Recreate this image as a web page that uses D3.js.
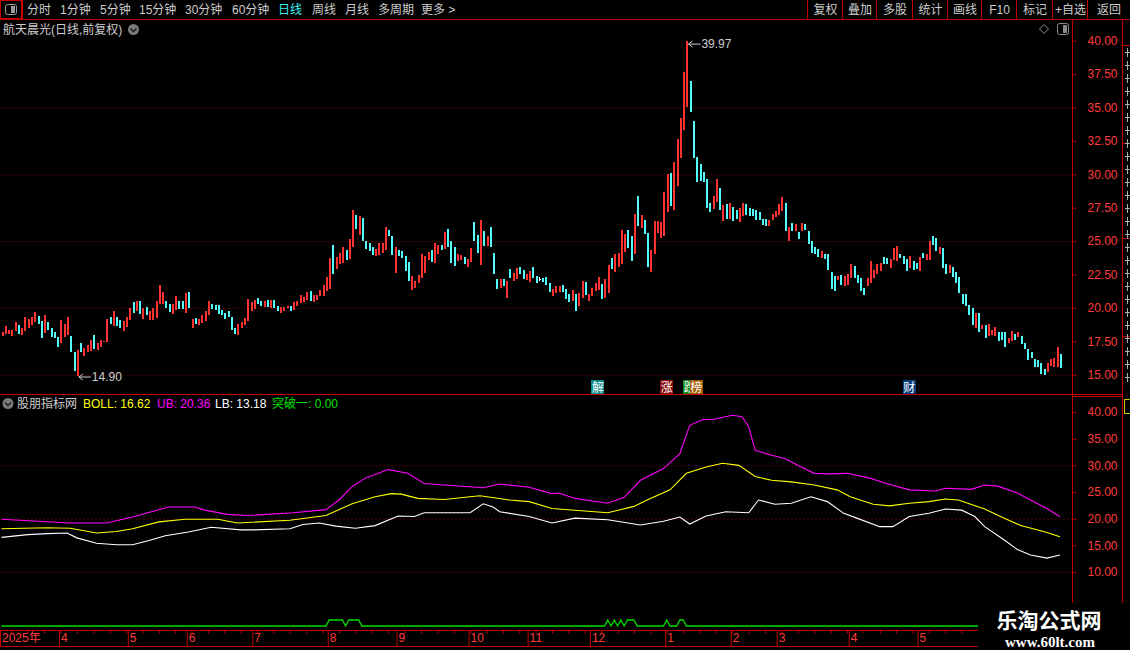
<!DOCTYPE html>
<html>
<head>
<meta charset="utf-8">
<title>航天晨光</title>
<script src="https://cdn.jsdelivr.net/npm/d3@7"></script>
<style>
  html, body { margin: 0; padding: 0; background: #000; overflow: hidden; }
  svg { display: block; }
  text { font-family: "Liberation Sans", Arial, "Noto Sans CJK SC", sans-serif; font-size: 12px; }
</style>
</head>
<body>
<svg id="chart" width="1130" height="650"></svg>
<script>
// daily candles
const open = [
  17.91,18.03,18.08,17.91,18.28,18.73,17.99,18.28,18.53,18.73,
  18.98,19.43,19.03,18.13,18.96,18.46,18.21,17.79,17.41,17.84,
  17.99,17.91,16.67,14.90,17.34,16.42,16.72,16.74,17.99,16.84,
  17.09,17.46,17.46,19.35,18.66,19.33,19.08,18.28,18.58,19.08,
  20.45,19.78,20.52,19.15,20.07,19.10,19.08,19.28,20.27,20.27,
  20.52,20.27,19.58,19.83,20.52,20.52,19.65,21.19,18.46,19.25,
  18.73,18.86,19.03,19.48,20.32,20.22,20.22,19.83,19.65,19.78,
  19.33,18.53,17.96,18.53,18.73,19.03,19.78,19.90,20.72,20.50,
  20.10,20.60,19.98,20.57,20.15,19.65,19.78,20.00,20.15,19.85,
  20.15,20.40,20.45,20.60,21.27,20.45,20.60,20.90,20.90,21.27,
  21.39,24.70,22.94,23.26,23.38,24.33,23.68,24.58,26.99,25.45,
  26.72,25.00,24.85,24.55,23.88,23.95,24.08,24.33,25.82,25.37,
  22.64,24.33,24.23,23.88,23.43,21.34,21.49,21.84,22.26,22.64,
  23.58,24.33,23.38,24.00,24.68,24.38,25.90,25.00,24.55,23.51,
  23.58,23.83,23.06,23.43,26.42,25.45,23.21,25.75,24.63,26.04,
  24.10,22.19,21.49,22.14,20.77,22.89,22.01,22.14,23.06,22.81,
  22.06,21.97,23.06,22.39,22.16,22.21,22.31,21.89,20.90,21.09,
  21.19,21.72,21.39,21.02,20.52,21.02,20.15,20.77,21.94,20.52,
  20.90,21.27,21.32,21.82,20.77,21.14,23.76,22.71,23.06,23.26,
  24.20,25.82,25.37,24.05,28.36,26.00,26.57,25.62,22.71,24.05,
  25.62,25.25,25.37,27.16,30.10,27.31,29.10,31.22,33.28,35.07,
  37.01,33.96,31.27,30.77,30.15,29.65,27.86,27.41,27.91,28.98,
  26.49,27.79,26.62,27.56,27.31,26.44,26.87,27.81,27.49,27.44,
  27.36,27.16,26.62,26.67,26.12,26.57,26.79,26.99,27.24,27.86,
  25.00,26.34,25.75,25.70,25.75,26.29,25.75,25.00,24.58,24.43,
  23.76,24.05,24.00,22.71,22.39,22.06,22.44,21.64,21.72,22.26,
  23.13,22.44,22.26,21.52,21.64,21.89,22.26,22.51,22.76,23.83,
  23.76,23.01,23.56,23.51,24.00,23.88,23.63,23.01,23.51,23.38,
  22.76,24.13,23.58,23.58,25.37,25.20,24.00,24.50,23.26,22.64,
  23.06,22.71,22.31,21.07,21.02,20.22,19.98,18.53,19.65,18.41,
  18.73,17.91,17.99,17.91,18.16,18.23,18.16,17.41,17.49,18.03,
  17.79,17.91,17.34,16.92,16.67,16.17,16.09,15.85,15.42,15.17,
  15.67,15.55,15.55,16.54
];
const close = [
  18.21,18.66,18.33,18.38,18.96,18.03,18.53,19.35,19.15,19.35,
  19.70,18.78,17.71,19.48,18.33,17.79,17.71,17.09,19.10,18.78,
  19.35,16.67,15.30,16.87,16.67,16.99,17.24,17.59,16.92,17.34,
  17.61,17.54,19.15,18.78,19.78,18.61,18.48,19.03,19.33,19.98,
  19.65,20.52,19.58,19.98,19.45,19.78,20.02,20.52,21.72,21.19,
  20.02,19.73,20.32,20.90,19.95,19.95,21.12,19.98,19.15,18.78,
  19.20,19.48,19.78,20.52,19.95,19.83,19.53,19.45,19.20,19.35,
  18.36,18.08,18.83,18.91,19.23,20.67,20.47,20.60,20.27,20.15,
  20.50,20.07,20.60,19.98,19.78,20.07,20.07,20.15,19.78,20.45,
  20.55,20.97,20.82,21.22,20.52,20.97,20.97,21.34,21.72,22.31,
  23.73,22.54,23.81,24.13,24.55,23.58,25.17,27.31,25.90,26.87,
  25.00,24.38,24.25,23.93,24.40,24.85,24.85,26.04,25.37,23.95,
  24.55,23.88,23.76,22.76,22.01,22.39,22.01,22.46,24.00,23.88,
  24.18,23.43,24.85,24.68,24.33,25.67,24.58,23.38,23.13,24.00,
  23.93,23.26,23.63,24.48,25.00,24.13,26.57,24.63,25.37,24.55,
  22.54,21.39,22.14,21.64,22.01,22.26,22.59,23.01,22.56,22.14,
  22.51,22.76,22.26,21.84,22.16,21.97,21.72,21.19,21.44,21.64,
  21.64,21.19,20.70,20.47,21.34,19.78,21.14,22.01,20.95,21.02,
  21.52,21.89,22.31,20.65,22.14,23.21,22.89,24.05,24.13,25.82,
  25.50,24.45,23.51,27.04,26.12,26.99,25.55,23.08,24.33,26.54,
  26.49,26.42,28.68,30.02,27.61,30.90,32.64,34.25,37.64,39.97,
  34.63,31.22,29.40,29.53,29.40,27.49,27.16,28.36,29.65,27.31,
  27.69,26.69,27.86,26.54,26.62,27.49,27.86,26.92,26.87,26.87,
  26.57,26.57,26.19,26.12,26.57,27.06,27.24,27.79,28.28,25.75,
  26.04,25.75,26.29,25.12,26.32,25.80,24.80,24.13,24.00,23.81,
  24.25,23.63,22.81,21.39,21.27,22.39,21.72,22.39,22.51,23.31,
  22.21,21.89,21.27,20.97,22.26,23.51,22.81,23.26,23.38,23.26,
  23.26,23.68,24.50,24.63,23.76,23.31,22.76,23.88,22.81,22.89,
  23.81,23.71,24.00,25.00,24.70,24.25,24.58,23.01,22.51,23.18,
  22.31,21.89,21.14,20.27,20.15,19.48,18.73,19.60,18.23,18.73,
  17.74,18.78,18.33,18.58,17.49,17.59,17.04,17.71,18.28,17.61,
  18.16,17.29,16.92,16.09,16.24,15.60,15.55,15.05,15.00,15.85,
  16.17,16.24,17.04,15.50
];
const high = [
  18.21,18.66,18.33,18.38,18.96,18.73,18.53,19.35,19.15,19.35,
  19.70,19.43,19.03,19.48,18.96,18.46,18.21,17.79,19.10,18.78,
  19.35,17.91,16.67,16.87,17.34,16.99,17.24,17.59,17.99,17.34,
  17.61,17.54,19.15,19.35,19.78,19.33,19.08,19.03,19.33,19.98,
  20.45,20.52,20.52,19.98,20.07,19.78,20.02,20.52,21.72,21.19,
  20.52,20.27,20.32,20.90,20.52,20.52,21.12,21.19,19.15,19.25,
  19.20,19.48,19.78,20.52,20.32,20.22,20.22,19.83,19.65,19.78,
  19.33,18.53,18.83,18.91,19.23,20.67,20.47,20.60,20.72,20.50,
  20.50,20.60,20.60,20.57,20.15,20.07,20.07,20.15,20.15,20.45,
  20.55,20.97,20.82,21.22,21.27,20.97,20.97,21.34,21.72,22.31,
  23.73,24.70,23.81,24.13,24.55,24.33,25.17,27.31,26.99,26.87,
  26.72,25.00,24.85,24.55,24.40,24.85,24.85,26.04,25.82,25.37,
  24.55,24.33,24.23,23.88,23.43,22.39,22.01,22.46,24.00,23.88,
  24.18,24.33,24.85,24.68,24.68,25.67,25.90,25.00,24.55,24.00,
  23.93,23.83,23.63,24.48,26.42,25.45,26.57,25.75,25.37,26.04,
  24.10,22.19,22.14,22.14,22.01,22.89,22.59,23.01,23.06,22.81,
  22.51,22.76,23.06,22.39,22.31,22.21,22.31,21.89,21.44,21.64,
  21.64,21.72,21.39,21.02,21.34,21.02,21.14,22.01,21.94,21.02,
  21.52,21.89,22.31,21.82,22.14,23.21,23.76,24.05,24.13,25.82,
  25.50,25.82,25.37,27.04,28.36,26.99,26.57,25.62,24.33,26.54,
  26.49,26.42,28.68,30.02,30.10,30.90,32.64,34.25,37.64,39.97,
  37.01,33.96,31.27,30.77,30.15,29.65,27.86,28.36,29.65,28.98,
  27.69,27.79,27.86,27.56,27.31,27.49,27.86,27.81,27.49,27.44,
  27.36,27.16,26.62,26.67,26.57,27.06,27.24,27.79,28.28,27.86,
  26.04,26.34,26.29,25.70,26.32,26.29,25.75,25.00,24.58,24.43,
  24.25,24.05,24.00,22.71,22.39,22.39,22.44,22.39,22.51,23.31,
  23.13,22.44,22.26,21.52,22.26,23.51,22.81,23.26,23.38,23.83,
  23.76,23.68,24.50,24.63,24.00,23.88,23.63,23.88,23.51,23.38,
  23.81,24.13,24.00,25.00,25.37,25.20,24.58,24.50,23.26,23.18,
  23.06,22.71,22.31,21.07,21.02,20.22,19.98,19.60,19.65,18.73,
  18.73,18.78,18.33,18.58,18.16,18.23,18.16,17.71,18.28,18.03,
  18.16,17.91,17.34,16.92,16.67,16.17,16.09,15.85,15.42,15.85,
  16.17,16.24,17.04,16.54
];
const low = [
  17.91,18.03,18.08,17.91,18.28,18.03,17.99,18.28,18.53,18.73,
  18.98,18.78,17.71,18.13,18.33,17.79,17.71,17.09,17.41,17.84,
  17.99,16.67,15.30,14.90,16.67,16.42,16.72,16.74,16.92,16.84,
  17.09,17.46,17.46,18.78,18.66,18.61,18.48,18.28,18.58,19.08,
  19.65,19.78,19.58,19.15,19.45,19.10,19.08,19.28,20.27,20.27,
  20.02,19.73,19.58,19.83,19.95,19.95,19.65,19.98,18.46,18.78,
  18.73,18.86,19.03,19.48,19.95,19.83,19.53,19.45,19.20,19.35,
  18.36,18.08,17.96,18.53,18.73,19.03,19.78,19.90,20.27,20.15,
  20.10,20.07,19.98,19.98,19.78,19.65,19.78,20.00,19.78,19.85,
  20.15,20.40,20.45,20.60,20.52,20.45,20.60,20.90,20.90,21.27,
  21.39,22.54,22.94,23.26,23.38,23.58,23.68,24.58,25.90,25.45,
  25.00,24.38,24.25,23.93,23.88,23.95,24.08,24.33,25.37,23.95,
  22.64,23.88,23.76,22.76,22.01,21.34,21.49,21.84,22.26,22.64,
  23.58,23.43,23.38,24.00,24.33,24.38,24.58,23.38,23.13,23.51,
  23.58,23.26,23.06,23.43,25.00,24.13,23.21,24.63,24.63,24.55,
  22.54,21.39,21.49,21.64,20.77,22.26,22.01,22.14,22.56,22.14,
  22.06,21.97,22.26,21.84,22.01,21.97,21.72,21.19,20.90,21.09,
  21.19,21.19,20.70,20.47,20.52,19.78,20.15,20.77,20.95,20.52,
  20.90,21.27,21.32,20.65,20.77,21.14,22.89,22.71,23.06,23.26,
  24.20,24.45,23.51,24.05,26.12,26.00,25.55,23.08,22.71,24.05,
  25.62,25.25,25.37,27.16,27.61,27.31,29.10,31.22,33.28,35.07,
  34.63,31.22,29.40,29.53,29.40,27.49,27.16,27.41,27.91,27.31,
  26.49,26.69,26.62,26.54,26.62,26.44,26.87,26.92,26.87,26.87,
  26.57,26.57,26.19,26.12,26.12,26.57,26.79,26.99,27.24,25.75,
  25.00,25.75,25.75,25.12,25.75,25.80,24.80,24.13,24.00,23.81,
  23.76,23.63,22.81,21.39,21.27,22.06,21.72,21.64,21.72,22.26,
  22.21,21.89,21.27,20.97,21.64,21.89,22.26,22.51,22.76,23.26,
  23.26,23.01,23.56,23.51,23.76,23.31,22.76,23.01,22.81,22.89,
  22.76,23.71,23.58,23.58,24.70,24.25,24.00,23.01,22.51,22.64,
  22.31,21.89,21.14,20.27,20.15,19.48,18.73,18.53,18.23,18.41,
  17.74,17.91,17.99,17.91,17.49,17.59,17.04,17.41,17.49,17.61,
  17.79,17.29,16.92,16.09,16.24,15.60,15.55,15.05,15.00,15.17,
  15.67,15.55,15.55,15.50
];

// month marks on the date axis (candle index where each month starts)
const monthIdx = [0, 18, 39, 57, 77, 100, 121, 143, 161, 180, 203, 223, 237, 259, 280];
const monthLabels = ["2025年","4","5","6","7","8","9","10","11","12","1","2","3","4","5"];

// BOLL panel, read at candle indexes
const ubIdx = [0,21,32,40,51,59,62,69,75,89,99,103,107,111,118,124,129,135,147,152,161,168,170,175,185,190,195,202,207,210,214,217,223,226,228,230,235,239,244,248,253,258,265,270,277,285,288,296,300,304,310,314,319,323];
const ubVal = [19.9,19.2,19.2,20.3,22.2,22.2,21.6,20.8,20.6,21.1,21.7,23.5,26.0,27.6,29.2,28.5,26.6,26.3,25.8,26.5,25.9,24.7,24.8,23.8,22.9,24.0,27.2,29.4,32.2,37.5,38.6,38.6,39.4,39.1,37.2,32.8,31.9,31.3,29.7,28.5,28.4,28.5,27.6,26.6,25.4,25.2,25.7,25.5,26.3,26.1,24.8,23.5,21.9,20.36];
const midIdx = [0,14,21,29,35,40,48,56,66,72,88,99,107,114,119,122,127,135,143,146,155,161,168,185,193,197,204,209,215,220,225,230,235,241,248,255,259,266,271,277,283,288,292,300,306,311,318,323];
const midVal = [18.1,18.3,18.2,17.3,17.6,18.1,19.4,19.9,19.9,19.2,19.7,20.6,22.8,24.1,24.7,24.6,23.8,23.6,24.1,24.3,23.5,23.2,21.9,21.1,22.3,23.5,25.4,28.5,29.7,30.4,30.0,27.9,27.2,26.9,26.3,25.4,24.1,22.7,22.4,22.9,23.2,23.7,23.5,21.8,20.1,18.7,17.6,16.62];
const lbIdx = [0,8,14,20,23,29,35,40,45,50,57,64,73,77,88,92,97,102,108,114,121,126,129,143,147,150,152,161,168,175,185,195,202,207,210,215,221,228,231,236,241,247,252,257,261,268,272,277,283,288,293,297,300,306,310,314,319,323];
const lbVal = [16.5,17.0,17.2,17.3,16.4,15.4,15.1,15.1,15.9,16.8,17.5,18.4,17.9,17.9,18.1,18.9,19.2,18.6,18.2,18.7,20.5,20.4,21.1,21.1,22.8,22.2,21.3,20.4,19.2,20.1,19.8,18.8,19.5,20.3,19.0,20.5,21.3,21.1,23.5,22.7,22.9,24.1,23.2,21.0,20.1,18.5,18.5,20.4,21.0,21.8,21.6,20.4,18.5,16.0,14.2,13.2,12.6,13.18];

// days where the 突破 signal is 1
const breakDays = [100,101,102,103,104,106,107,108,109,185,187,189,191,192,193,203,207,208];

// event badges under the candles
const markerIdx = [182, 203, 210, 212, 277];
const markerText = ["解", "涨", "跌", "榜", "财"];

const mainTicks = [15, 17.5, 20, 22.5, 25, 27.5, 30, 32.5, 35, 37.5, 40];
const mainGrid = [15, 20, 25, 30, 35];
const indTicks = [10, 15, 20, 25, 30, 35, 40];
const indGrid = [10, 20, 30];

const periods = ["分时","1分钟","5分钟","15分钟","30分钟","60分钟","日线","周线","月线","多周期","更多 >"];
const periodX = [27, 60, 100, 139, 185, 232, 278, 312, 345, 378, 421];
const buttons = ["复权","叠加","多股","统计","画线","F10","标记","+自选","返回"];
const buttonEdges = [807, 842, 876, 912, 947, 981, 1016, 1052, 1087, 1129];

// ---- drawing ----
const RED_LINE = "#c40000";
const RED_TEXT = "#ff3b3b";
const GRAY = "#cdcdcd";
const UP = "#ff3232";
const DOWN = "#54fcfc";
const AXIS_X = 1072.5;

const svg = d3.select("#chart");
svg.append("rect").attr("width", 1130).attr("height", 650).attr("fill", "#000");

const N = close.length;
const x = d3.scaleLinear().domain([0, N - 1]).range([1.5, 1060]);
const yMain = d3.scaleLinear().domain([15, 40]).range([374.7, 40.7]);
const yInd = d3.scaleLinear().domain([10, 40]).range([572, 412]);
const yBrk = d3.scaleLinear().domain([0, 1]).range([626, 620]);

// grids
function grid(scale, values) {
  const g = svg.append("g").attr("transform", `translate(${AXIS_X},0)`)
    .call(d3.axisLeft(scale).tickValues(values).tickSize(AXIS_X).tickFormat(""));
  g.select(".domain").remove();
  g.selectAll("line").attr("stroke", "#a00000").attr("stroke-dasharray", "1,3");
}
grid(yMain, mainGrid);
grid(yInd, indGrid);

// frame lines
const frame = svg.append("g").attr("stroke", RED_LINE).attr("shape-rendering", "crispEdges");
frame.append("line").attr("x1", 0).attr("x2", 1130).attr("y1", 19.5).attr("y2", 19.5);
frame.append("line").attr("x1", 0).attr("x2", 1122).attr("y1", 394.5).attr("y2", 394.5);
frame.append("line").attr("x1", AXIS_X).attr("x2", 1122).attr("y1", 396.5).attr("y2", 396.5);
frame.append("line").attr("x1", 0).attr("x2", AXIS_X).attr("y1", 630.5).attr("y2", 630.5);
frame.append("line").attr("x1", 0).attr("x2", AXIS_X).attr("y1", 646.5).attr("y2", 646.5);
frame.append("line").attr("x1", AXIS_X).attr("x2", AXIS_X).attr("y1", 20).attr("y2", 650);
frame.append("line").attr("x1", 1122.5).attr("x2", 1122.5).attr("y1", 20).attr("y2", 650);
frame.append("line").attr("x1", 22.5).attr("x2", 22.5).attr("y1", 0).attr("y2", 19);
buttonEdges.slice(0, -1).forEach(bx =>
  frame.append("line").attr("x1", bx + 0.5).attr("x2", bx + 0.5).attr("y1", 0).attr("y2", 19));
[45, 143, 238, 336].forEach(yy =>
  frame.append("line").attr("x1", 1122).attr("x2", 1130).attr("y1", yy + 0.5).attr("y2", yy + 0.5));

// right axes
function rightAxis(scale, values) {
  const g = svg.append("g").attr("transform", `translate(${AXIS_X},0)`)
    .call(d3.axisRight(scale).tickValues(values).tickSize(4).tickPadding(11).tickFormat(d3.format(".2f")));
  g.select(".domain").remove();
  g.selectAll("line").attr("stroke", RED_LINE);
  g.selectAll("text").attr("fill", RED_TEXT).style("font-size", "12px")
    .style("font-family", "'Liberation Sans', Arial, sans-serif");
}
rightAxis(yMain, mainTicks);
rightAxis(yInd, indTicks);

// candles
const kg = svg.append("g").attr("shape-rendering", "crispEdges");
const candle = kg.selectAll("g").data(d3.range(N)).join("g");
const kColor = i => close[i] > open[i] ? UP : (close[i] < open[i] ? DOWN : "#ffffff");
candle.append("line")
  .attr("x1", i => Math.round(x(i)) + 0.5).attr("x2", i => Math.round(x(i)) + 0.5)
  .attr("y1", i => yMain(high[i])).attr("y2", i => yMain(low[i]))
  .attr("stroke", kColor);
candle.append("rect")
  .attr("x", i => Math.round(x(i)))
  .attr("width", 2)
  .attr("y", i => yMain(Math.max(open[i], close[i])))
  .attr("height", i => Math.max(1, yMain(Math.min(open[i], close[i])) - yMain(Math.max(open[i], close[i]))))
  .attr("fill", kColor);

// extreme labels
const fmt = d3.format(".2f");
function extremeLabel(i, v, dy) {
  const px = x(i) + 2, py = yMain(v) + dy;
  const g = svg.append("g").attr("stroke", GRAY).attr("fill", "none");
  g.append("path").attr("d", `M${px + 12},${py} H${px} M${px + 4},${py - 3} L${px},${py} L${px + 4},${py + 3}`);
  svg.append("text").attr("x", px + 13).attr("y", py + 4).attr("fill", GRAY).text(fmt(v));
}
const iLow = d3.minIndex(low), iHigh = d3.maxIndex(high);
extremeLabel(iLow, low[iLow], 1);
extremeLabel(iHigh, high[iHigh], 3);

// badges
const badgeFill = { "解": "#0e8c8c", "涨": "#8c0a0a", "跌": "#0d8a1c", "榜": "#a35c06", "财": "#0b3c7c" };
markerIdx.forEach((mi, k) => {
  const cx = x(mi);
  svg.append("rect").attr("x", Math.round(cx - 6.5)).attr("y", 380).attr("width", 13).attr("height", 14)
    .attr("fill", badgeFill[markerText[k]]);
  svg.append("text").attr("x", cx).attr("y", 391.5).attr("text-anchor", "middle")
    .attr("fill", "#fff").style("font-size", "12px").style("font-family", "'Noto Sans CJK SC'")
    .text(markerText[k]);
});

// BOLL lines
const bandLine = d3.line().x(d => x(d[0])).y(d => yInd(d[1]));
[[ubIdx, ubVal, "#ff00ff"], [midIdx, midVal, "#ffff00"], [lbIdx, lbVal, "#ffffff"]].forEach(([ix, vs, col]) => {
  svg.append("path").datum(d3.zip(ix, vs)).attr("d", bandLine)
    .attr("fill", "none").attr("stroke", col).attr("stroke-width", 1.1);
});

// breakout signal
const brk = d3.range(N).map(i => breakDays.includes(i) ? 1 : 0);
svg.append("path").datum(brk)
  .attr("d", d3.line().x((d, i) => x(i)).y(d => yBrk(d)))
  .attr("fill", "none").attr("stroke", "#00e000").attr("stroke-width", 1.3);

// date axis
const dAxis = svg.append("g").attr("transform", "translate(0,630.5)")
  .call(d3.axisBottom(x).tickValues(monthIdx).tickSize(16).tickFormat((d, k) => monthLabels[k]));
dAxis.select(".domain").remove();
dAxis.selectAll("line").attr("stroke", RED_LINE).attr("transform", "translate(-1.5,0)");
dAxis.selectAll("text").attr("fill", RED_TEXT).attr("text-anchor", "start")
  .attr("x", 0).attr("y", 3).attr("dy", "0.71em").style("font-size", "12px")
  .style("font-family", "'Liberation Sans', 'Noto Sans CJK SC', sans-serif");
const minor = svg.append("g").attr("transform", "translate(0,630.5)")
  .call(d3.axisBottom(x).tickValues(d3.range(3, N, 5)).tickSize(3).tickFormat(""));
minor.select(".domain").remove();
minor.selectAll("line").attr("stroke", RED_LINE);

// toolbar
svg.append("rect").attr("x", 0.5).attr("y", 0.5).attr("width", 21).attr("height", 18)
  .attr("fill", "none").attr("stroke", RED_LINE);
svg.append("rect").attr("x", 5.5).attr("y", 4.5).attr("width", 11).attr("height", 10).attr("rx", 2)
  .attr("fill", "none").attr("stroke", "#9a9a9a");
svg.append("rect").attr("x", 11).attr("y", 6).attr("width", 4).attr("height", 7).attr("fill", "#9a9a9a");
periods.forEach((p, k) => {
  svg.append("text").attr("x", periodX[k]).attr("y", 14).attr("fill", p === "日线" ? "#3cf0f0" : GRAY).text(p);
});
buttons.forEach((b, k) => {
  svg.append("text").attr("x", (buttonEdges[k] + buttonEdges[k + 1]) / 2 + 1).attr("y", 14)
    .attr("text-anchor", "middle").attr("fill", GRAY).text(b);
});

// panel titles
svg.append("text").attr("x", 3).attr("y", 34).attr("fill", GRAY).text("航天晨光(日线,前复权)");
function dropIcon(cx, cy) {
  svg.append("circle").attr("cx", cx).attr("cy", cy).attr("r", 5.5).attr("fill", "#7a7a7a");
  svg.append("path").attr("d", `M${cx - 3},${cy - 1} L${cx},${cy + 2} L${cx + 3},${cy - 1}`)
    .attr("fill", "none").attr("stroke", "#1a1a1a").attr("stroke-width", 1.4);
}
dropIcon(133.5, 29.5);
dropIcon(8, 403.5);
svg.append("path").attr("d", "M1044,24.5 L1048.5,29 L1044,33.5 L1039.5,29 Z")
  .attr("fill", "none").attr("stroke", "#8a8a8a");
svg.append("rect").attr("x", 1057.5).attr("y", 23.5).attr("width", 11).attr("height", 11).attr("rx", 2)
  .attr("fill", "none").attr("stroke", "#8a8a8a");
svg.append("rect").attr("x", 1063).attr("y", 25).attr("width", 4).attr("height", 8).attr("fill", "#8a8a8a");

const legend = svg.append("text").attr("x", 17).attr("y", 408);
legend.append("tspan").attr("fill", GRAY).text("股朋指标网 ");
legend.append("tspan").attr("fill", "#ffff00").attr("x", 83).text(`BOLL: ${fmt(midVal[midVal.length - 1])}`);
legend.append("tspan").attr("fill", "#ff00ff").attr("x", 157).text(`UB: ${fmt(ubVal[ubVal.length - 1])}`);
legend.append("tspan").attr("fill", "#ffffff").attr("x", 215).text(`LB: ${fmt(lbVal[lbVal.length - 1])}`);
legend.append("tspan").attr("fill", "#00e000").attr("x", 272).text(`突破一: ${fmt(brk[N - 1])}`);

// clipped side column: only glyph fragments show at the window edge
const sideG = svg.append("g").attr("stroke", "#b0b0b0").attr("shape-rendering", "crispEdges");
d3.range(52, 390, 13).forEach(yy => {
  sideG.append("path").attr("d", `M1125,${yy + 0.5} H1130 M1127.5,${yy - 4} V${yy + 5}`);
});
svg.append("rect").attr("x", 1124.5).attr("y", 399.5).attr("width", 10).attr("height", 14)
  .attr("fill", "none").attr("stroke", "#d8c800");

// watermark
svg.append("rect").attr("x", 978).attr("y", 603).attr("width", 152).attr("height", 47).attr("fill", "#000");
svg.append("text").attr("x", 1049).attr("y", 628).attr("text-anchor", "middle").attr("fill", "#fff")
  .style("font-size", "21px").style("font-weight", "bold").style("font-family", "'Noto Sans CJK SC'")
  .text("乐淘公式网");
svg.append("text").attr("x", 1050).attr("y", 647).attr("text-anchor", "middle").attr("fill", "#fff")
  .style("font-size", "15px").style("font-weight", "bold").style("font-family", "'Liberation Serif', serif")
  .text("www.60lt.com");
</script>
</body>
</html>
